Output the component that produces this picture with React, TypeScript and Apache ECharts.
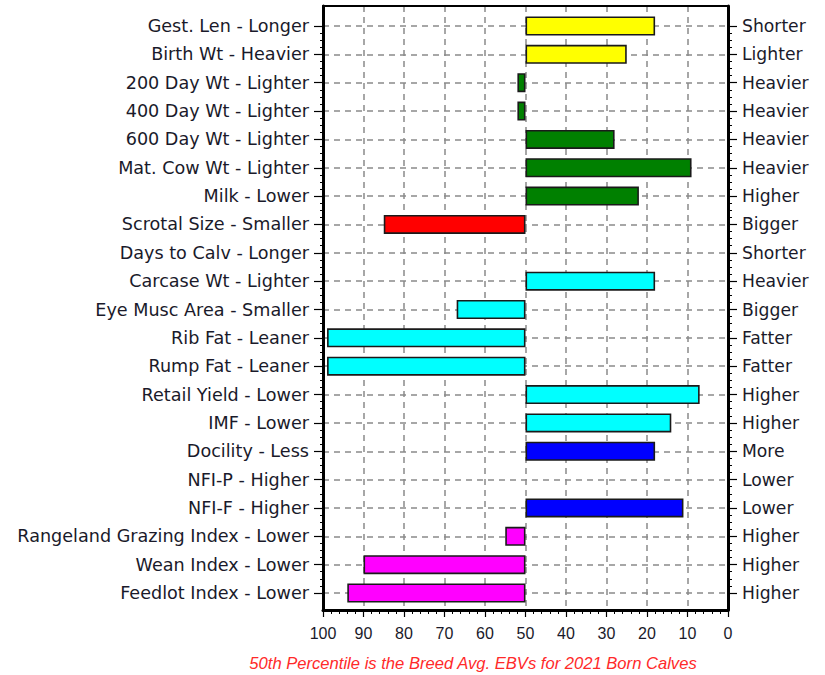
import React, { useEffect, useRef } from "react";
import * as echarts from "echarts";

const categories = [
  "Gest. Len - Longer",
  "Birth Wt - Heavier",
  "200 Day Wt - Lighter",
  "400 Day Wt - Lighter",
  "600 Day Wt - Lighter",
  "Mat. Cow Wt - Lighter",
  "Milk - Lower",
  "Scrotal Size - Smaller",
  "Days to Calv - Longer",
  "Carcase Wt - Lighter",
  "Eye Musc Area - Smaller",
  "Rib Fat - Leaner",
  "Rump Fat - Leaner",
  "Retail Yield - Lower",
  "IMF - Lower",
  "Docility - Less",
  "NFI-P - Higher",
  "NFI-F - Higher",
  "Rangeland Grazing Index - Lower",
  "Wean Index - Lower",
  "Feedlot Index - Lower",
];

const rightLabels = [
  "Shorter", "Lighter", "Heavier", "Heavier", "Heavier", "Heavier", "Higher",
  "Bigger", "Shorter", "Heavier", "Bigger", "Fatter", "Fatter", "Higher",
  "Higher", "More", "Lower", "Lower", "Higher", "Higher", "Higher",
];

// percentile values (null = no value)
const percentiles: (number | null)[] = [
  18, 25, 52, 52, 28, 9, 22, 85, null, 18, 67, 99, 99, 7, 14, 18, null, 11, 55, 90, 94,
];

const barColors = [
  "#FFFF00", "#FFFF00", "#008000", "#008000", "#008000", "#008000", "#008000",
  "#FF0000", "#FF0000", "#00FFFF", "#00FFFF", "#00FFFF", "#00FFFF", "#00FFFF",
  "#00FFFF", "#0000FF", "#0000FF", "#0000FF", "#FF00FF", "#FF00FF", "#FF00FF",
];

const xTicks = [0, 10, 20, 30, 40, 50, 60, 70, 80, 90, 100];
const breedAvg = 50;
const footnote = "50th Percentile is the Breed Avg. EBVs for 2021 Born Calves";

export default function App() {
  const ref = useRef<HTMLDivElement>(null);

  useEffect(() => {
    if (!ref.current) return;
    const chart = echarts.init(ref.current, undefined, { renderer: "svg" });

    const baseData = percentiles.map((v) => (v == null ? "-" : Math.min(v, breedAvg)));
    const lenData = percentiles.map((v, i) =>
      v == null || v === breedAvg
        ? "-"
        : {
            value: Math.abs(v - breedAvg),
            itemStyle: { color: barColors[i] },
          }
    );

    const gridL = 323;
    const gridW = 405;
    const dash = { color: "#8a8a8a", width: 1.5, type: [6, 5] as any };
    const labelFont = "DejaVu Sans";
    const frameLine = (w: number) => ({ show: true, onZero: false, lineStyle: { color: "#000", width: w } });

    chart.setOption({
      animation: false,
      backgroundColor: "#ffffff",
      grid: [
        { left: gridL, top: 6, width: gridW, height: 604 },
        { left: gridL, top: 26, width: gridW, height: 567 },
      ],
      xAxis: [
        {
          gridIndex: 0,
          type: "value",
          min: xTicks[0],
          max: xTicks[xTicks.length - 1],
          interval: 10,
          inverse: true,
          position: "bottom",
          axisLine: frameLine(3),
          axisTick: { show: true, length: 7, lineStyle: { color: "#000", width: 1.2 } },
          minorTick: { show: true, splitNumber: 5, length: 4, lineStyle: { color: "#000", width: 1 } },
          axisLabel: {
            show: true,
            fontFamily: "Liberation Sans",
            fontSize: 16,
            color: "#1a1a2a",
            margin: 15,
          },
          splitLine: { show: true, lineStyle: dash },
        },
        {
          gridIndex: 0,
          type: "value",
          min: 0,
          max: 100,
          position: "top",
          axisLine: frameLine(2),
          axisTick: { show: false },
          axisLabel: { show: false },
          splitLine: { show: false },
        },
        {
          gridIndex: 1,
          type: "value",
          min: 0,
          max: 100,
          inverse: true,
          show: false,
        },
      ],
      yAxis: [
        {
          gridIndex: 0,
          type: "value",
          min: 0,
          max: 1,
          position: "left",
          axisLine: frameLine(3),
          axisTick: { show: false },
          axisLabel: { show: false },
          splitLine: { show: false },
        },
        {
          gridIndex: 0,
          type: "value",
          min: 0,
          max: 1,
          position: "right",
          axisLine: frameLine(3),
          axisTick: { show: false },
          axisLabel: { show: false },
          splitLine: { show: false },
        },
        {
          gridIndex: 1,
          type: "category",
          data: categories,
          inverse: true,
          boundaryGap: false,
          position: "left",
          axisLine: { show: false },
          axisTick: { show: false },
          axisLabel: {
            fontFamily: labelFont,
            fontSize: 17.6,
            color: "#1a1a2a",
            margin: 14,
            interval: 0,
          },
          splitLine: { show: false },
        },
        {
          gridIndex: 1,
          type: "category",
          data: rightLabels,
          inverse: true,
          boundaryGap: false,
          position: "right",
          axisLine: { show: false },
          axisTick: { show: false },
          axisLabel: {
            fontFamily: labelFont,
            fontSize: 17.2,
            color: "#1a1a2a",
            margin: 14,
            interval: 0,
          },
          splitLine: { show: false },
        },
        {
          gridIndex: 1,
          type: "value",
          min: 0,
          max: categories.length - 1,
          interval: 1,
          inverse: true,
          position: "left",
          axisLine: { show: false, onZero: false },
          axisTick: { show: true, length: 9, lineStyle: { color: "#000", width: 1.2 } },
          minorTick: { show: true, splitNumber: 4, length: 3, lineStyle: { color: "#000", width: 1 } },
          axisLabel: { show: false },
          splitLine: { show: true, lineStyle: dash },
        },
        {
          gridIndex: 1,
          type: "value",
          min: 0,
          max: categories.length - 1,
          interval: 1,
          inverse: true,
          position: "right",
          axisLine: { show: false, onZero: false },
          axisTick: { show: true, length: 9, lineStyle: { color: "#000", width: 1.2 } },
          minorTick: { show: true, splitNumber: 4, length: 4, lineStyle: { color: "#000", width: 1 } },
          axisLabel: { show: false },
          splitLine: { show: false },
        },
      ],
      series: [
        {
          type: "bar",
          xAxisIndex: 2,
          yAxisIndex: 2,
          stack: "p",
          barWidth: 19,
          clip: false,
          silent: true,
          itemStyle: { color: "rgba(0,0,0,0)", borderWidth: 0 },
          data: baseData,
        },
        {
          type: "bar",
          xAxisIndex: 2,
          yAxisIndex: 2,
          stack: "p",
          barWidth: 19,
          clip: false,
          itemStyle: { borderColor: "#1a1a1a", borderWidth: 1.6 },
          data: lenData,
        },
      ],
      graphic: [
        {
          type: "text",
          x: 473,
          y: 663,
          style: {
            text: footnote,
            fill: "#ff2a2a",
            fontFamily: "Liberation Sans",
            fontStyle: "italic",
            fontSize: 16.6,
            align: "center",
            verticalAlign: "middle",
          },
        },
      ],
    });

    return () => chart.dispose();
  }, []);

  return (
    <div
      ref={ref}
      style={{ position: "absolute", left: 0, top: 0, width: 825, height: 675, background: "#fff" }}
    />
  );
}
